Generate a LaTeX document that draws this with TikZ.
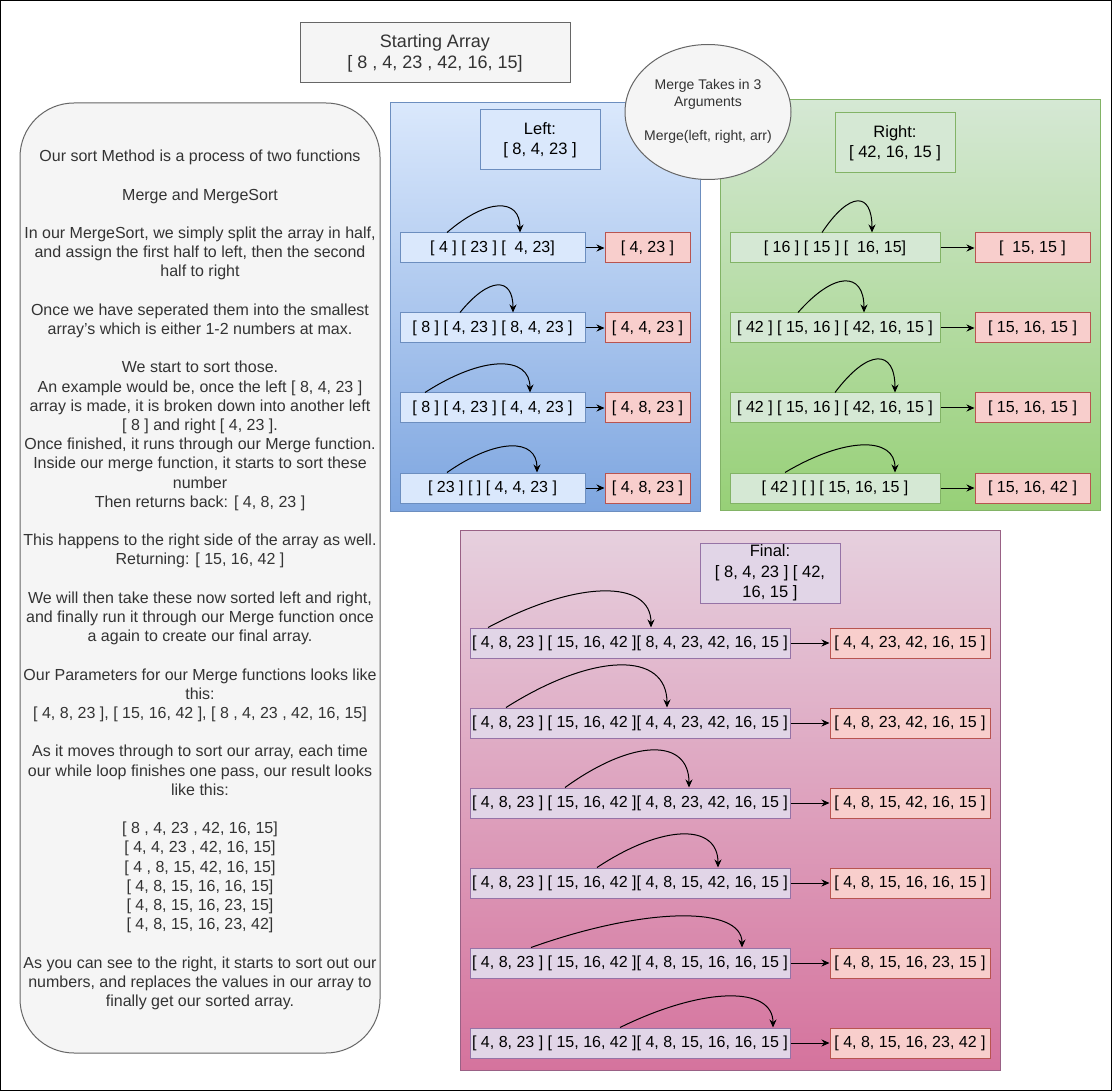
\documentclass[tikz,border=0pt]{standalone}
\usepackage{fontspec}
\setmainfont{Liberation Sans}
\usepackage{xcolor}
\usepackage{tikz}
\usetikzlibrary{arrows.meta}
\definecolor{gris}{HTML}{F5F5F5}
\definecolor{grisT}{HTML}{666666}
\definecolor{texte}{HTML}{333333}
\definecolor{bleu}{HTML}{DAE8FC}
\definecolor{bleuB}{HTML}{7EA6E0}
\definecolor{bleuT}{HTML}{6C8EBF}
\definecolor{vert}{HTML}{D5E8D4}
\definecolor{vertB}{HTML}{97D077}
\definecolor{vertT}{HTML}{82B366}
\definecolor{mauve}{HTML}{E1D5E7}
\definecolor{mauveT}{HTML}{9673A6}
\definecolor{rose}{HTML}{E6D0DE}
\definecolor{roseB}{HTML}{D5739D}
\definecolor{roseT}{HTML}{996185}
\definecolor{rouge}{HTML}{F8CECC}
\definecolor{rougeT}{HTML}{B85450}
\newcommand{\taille}[2]{\fontsize{#1}{#2}\selectfont}
\def\largeur{1112}
\def\hauteur{1091}
\def\deb{[ 4, 8, 23 ] [ 15, 16, 42 ]}

\begin{document}
\begin{tikzpicture}[x=1pt, y=-1pt, line width=1pt,
	boite/.style={draw, inner sep=0pt, align=center},
	ligne/.style={boite, minimum height=30pt, font=\taille{16}{19.2}},
	res/.style={ligne, fill=rouge, draw=rougeT},
	titre/.style={boite, minimum height=60pt, font=\taille{16.5}{20.5}},
	fleche/.style={-{Stealth[length=8pt,width=7pt]}}]
	\useasboundingbox (0,0) rectangle (\largeur,\hauteur);
	\draw (0.5,0.5) rectangle (1111.5,1090.5);
	%\draw[step=100, gray!30, line width=0.2pt] (0,0) grid (\largeur,\hauteur);
	\node[titre, fill=gris, draw=grisT, text=texte, minimum width=270, font=\taille{18}{21}] (depart) at (435,53) {Starting Array\\{}[ 8 , 4, 23 , 42, 16, 15]};
	\node[boite, fill=gris, draw=grisT, text=texte, rounded corners=54pt, minimum width=360, minimum height=950, font=\taille{16}{19.2}] (texte) at (200,578) {};
	\node[text=texte, align=center, inner sep=0pt, font=\taille{16}{19.2}] (explication) at (200,580) {Our sort Method is a process of two functions\\[19.2pt]
		Merge and MergeSort\\[19.2pt]
		In our MergeSort, we simply split the array in half,\\
		and assign the first half to left, then the second\\
		half to right\\[19.2pt]
		Once we have seperated them into the smallest\\
		array{\char39}s which is either 1-2 numbers at max.\\[19.2pt]
		We start to sort those.\\
		An example would be, once the left [ 8, 4, 23 ]\\
		array is made, it is broken down into another left\\
		{}[ 8 ] and right [ 4, 23 ].\\
		Once finished, it runs through our Merge function.\\
		Inside our merge function, it starts to sort these\\
		number\\
		Then returns back: [ 4, 8, 23 ]\\[19.2pt]
		This happens to the right side of the array as well.\\
		Returning: [ 15, 16, 42 ]\\[19.2pt]
		We will then take these now sorted left and right,\\
		and finally run it through our Merge function once\\
		a again to create our final array.\\[19.2pt]
		Our Parameters for our Merge functions looks like\\
		this:\\
		{}[ 4, 8, 23 ], [ 15, 16, 42 ], [ 8 , 4, 23 , 42, 16, 15]\\[19.2pt]
		As it moves through to sort our array, each time\\
		our while loop finishes one pass, our result looks\\
		like this:\\[19.2pt]
		{}[ 8 , 4, 23 , 42, 16, 15]\\
		{}[ 4, 4, 23 , 42, 16, 15]\\
		{}[ 4 , 8, 15, 42, 16, 15]\\
		{}[ 4, 8, 15, 16, 16, 15]\\
		{}[ 4, 8, 15, 16, 23, 15]\\
		{}[ 4, 8, 15, 16, 23, 42]\\[19.2pt]
		As you can see to the right, it starts to sort out our\\
		numbers, and replaces the values in our array to\\
		finally get our sorted array.};
	% left
	\draw[draw=bleuT, top color=bleu, bottom color=bleuB] (390,103) rectangle (700,511);
	\node[titre, fill=bleu, draw=bleuT, minimum width=120] (gauche) at (540,140) {Left:\\{}[ 8, 4, 23 ]};
	\foreach \y/\gch/\res/\xa/\xb/\h [count=\i] in {
		248/{[ 4 ] [ 23 ] [ \ 4, 23]}/{[ 4, 23 ]}/447/520/26,
		328/{[ 8 ] [ 4, 23 ] [ 8, 4, 23 ]}/{[ 4, 4, 23 ]}/460/513/27,
		408/{[ 8 ] [ 4, 23 ] [ 4, 4, 23 ]}/{[ 4, 8, 23 ]}/425/530/28,
		488/{[ 23 ] [ ] [ 4, 4, 23 ]}/{[ 4, 8, 23 ]}/447/537/26}{
		\node[ligne, fill=bleu, draw=bleuT, minimum width=185] (g\i) at (492.5,\y) {\gch};
		\node[res, minimum width=85] (gr\i) at (647.5,\y) {\res};
		\draw[fleche] (g\i) -- (gr\i);
		\pgfmathsetmacro\ca{0.55*(\xb-\xa)}
		\pgfmathsetmacro\hh{\h/0.75}
		\draw[fleche] (g\i.north -| \xa,0) .. controls +(\ca,-\hh) and +(0,-\hh) .. (g\i.north -| \xb,0);
	}
	% right
	\draw[draw=vertT, top color=vert, bottom color=vertB] (720,100) rectangle (1100,510);
	\node[titre, fill=vert, draw=vertT, minimum width=120] (droite) at (895,143) {Right:\\{}[ 42, 16, 15 ]};
	\foreach \y/\gch/\res/\xa/\xb/\h [count=\i] in {
		248/{[ 16 ] [ 15 ] [ \ 16, 15]}/{[ \ 15, 15 ]}/822/872/31,
		328/{[ 42 ] [ 15, 16 ] [ 42, 16, 15 ]}/{[ 15, 16, 15 ]}/798/864/31,
		408/{[ 42 ] [ 15, 16 ] [ 42, 16, 15 ]}/{[ 15, 16, 15 ]}/835/895/33,
		488/{[ 42 ] [ ] [ 15, 16, 15 ]}/{[ 15, 16, 42 ]}/785/895/27}{
		\node[ligne, fill=vert, draw=vertT, minimum width=210] (d\i) at (835,\y) {\gch};
		\node[res, minimum width=115] (dr\i) at (1032.5,\y) {\res};
		\draw[fleche] (d\i) -- (dr\i);
		\pgfmathsetmacro\ca{0.55*(\xb-\xa)}
		\pgfmathsetmacro\hh{\h/0.75}
		\draw[fleche] (d\i.north -| \xa,0) .. controls +(\ca,-\hh) and +(0,-\hh) .. (d\i.north -| \xb,0);
	}
	% final
	\draw[draw=roseT, top color=rose, bottom color=roseB] (460,530) rectangle (1000,1070);
	\node[titre, fill=mauve, draw=mauveT, minimum width=140] (final) at (770,573) {Final:\\{}[ 8, 4, 23 ] [ 42,\\16, 15 ]};
	\foreach \y/\tab/\res/\xa/\xb/\h [count=\i] in {
		643/{8, 4, 23, 42, 16, 15}/{4, 4, 23, 42, 16, 15}/488/651/36,
		723/{4, 4, 23, 42, 16, 15}/{4, 8, 23, 42, 16, 15}/506/667/42,
		803/{4, 8, 23, 42, 16, 15}/{4, 8, 15, 42, 16, 15}/565/689/37,
		883/{4, 8, 15, 42, 16, 15}/{4, 8, 15, 16, 16, 15}/597/718/33,
		963/{4, 8, 15, 16, 16, 15}/{4, 8, 15, 16, 23, 15}/531/742/31,
		1043/{4, 8, 15, 16, 16, 15}/{4, 8, 15, 16, 23, 42}/620/773/31}{
		\node[ligne, fill=mauve, draw=mauveT, minimum width=320] (f\i) at (630,\y) {\deb[ \tab\ ]};
		\node[res, minimum width=160] (fr\i) at (910,\y) {[ \res\ ]};
		\draw[fleche] (f\i) -- (fr\i);
		\pgfmathsetmacro\ca{0.55*(\xb-\xa)}
		\pgfmathsetmacro\hh{\h/0.75}
		\draw[fleche] (f\i.north -| \xa,0) .. controls +(\ca,-\hh) and +(0,-\hh) .. (f\i.north -| \xb,0);
	}
	\draw[fill=gris, draw=grisT] (708,112) ellipse [x radius=83, y radius=67.5];
	\node[align=center, inner sep=0pt, text=texte, font=\taille{14}{17}] (merge) at (708,111) {Merge Takes in 3\\Arguments\\[17pt]Merge(left, right, arr)};
\end{tikzpicture}
\end{document}
